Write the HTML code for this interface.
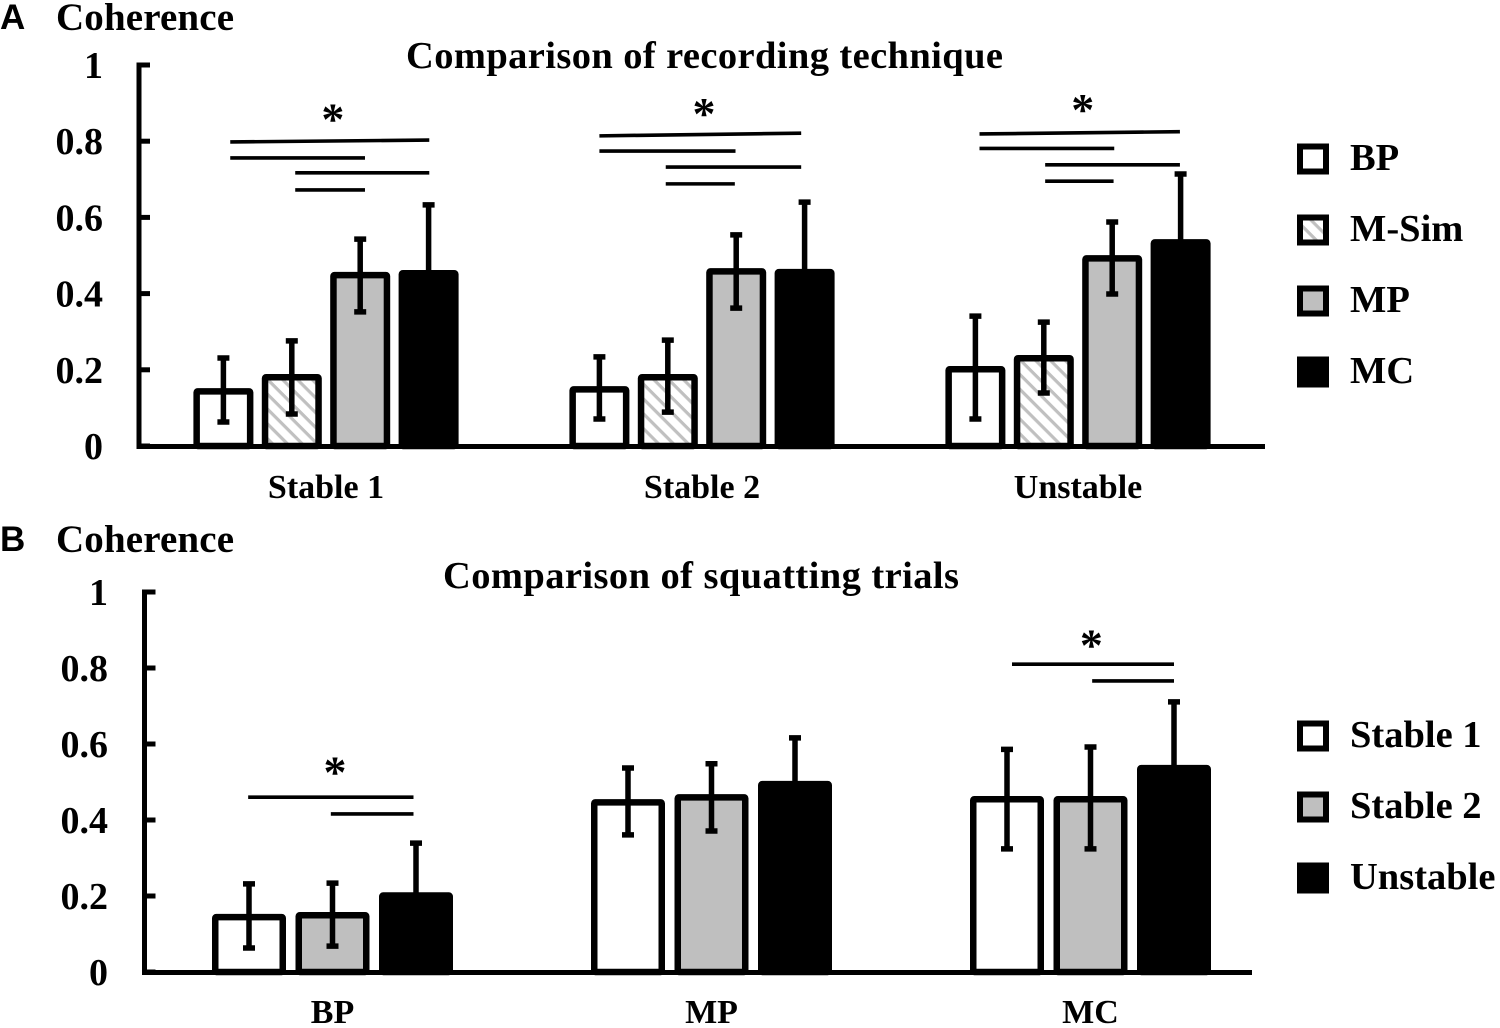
<!DOCTYPE html>
<html>
<head>
<meta charset="utf-8">
<title>Coherence comparison chart</title>
<style>
html,body{margin:0;padding:0;background:#fff;width:1500px;height:1028px;overflow:hidden}
svg{display:block;position:absolute;left:0;top:0;filter:blur(0.35px)}
text{font-family:"Liberation Serif",serif;font-weight:bold;fill:#000}
</style>
</head>
<body>
<svg id="chart" width="1500" height="1028" viewBox="0 0 1500 1028" xmlns="http://www.w3.org/2000/svg">
<defs>
<pattern id="hatch" width="10.5" height="10.5" patternUnits="userSpaceOnUse" patternTransform="rotate(45)">
<rect width="10.5" height="10.5" fill="#fff"/>
<rect width="10.5" height="3.2" y="4" fill="#c0c0c0"/>
</pattern>
</defs>
<text x="0" y="29" style="font-family:'Liberation Sans',sans-serif;font-size:35px">A</text>
<text x="56" y="30" style="font-size:39px" textLength="178" lengthAdjust="spacing">Coherence</text>
<text x="406" y="68" style="font-size:38.5px" textLength="597" lengthAdjust="spacing">Comparison of recording technique</text>
<text x="0" y="551" style="font-family:'Liberation Sans',sans-serif;font-size:35px">B</text>
<text x="56" y="552" style="font-size:39px" textLength="178" lengthAdjust="spacing">Coherence</text>
<text x="443" y="588" style="font-size:38.5px" textLength="516" lengthAdjust="spacing">Comparison of squatting trials</text>
</svg>
<script>
// Shared axis tick labels
const yTickLabels = ['0', '0.2', '0.4', '0.6', '0.8', '1'];

// Panel A: comparison of recording technique
const categoriesA = ['Stable 1', 'Stable 2', 'Unstable'];
const seriesNamesA = ['BP', 'M-Sim', 'MP', 'MC'];
const meanBP = [0.152, 0.157, 0.210];
const upperBP = [0.231, 0.234, 0.341];
const lowerBP = [0.063, 0.071, 0.071];
const meanMSim = [0.189, 0.189, 0.239];
const upperMSim = [0.276, 0.278, 0.325];
const lowerMSim = [0.084, 0.089, 0.139];
const meanMP = [0.457, 0.467, 0.501];
const upperMP = [0.543, 0.554, 0.588];
const lowerMP = [0.352, 0.362, 0.399];
const meanMC = [0.462, 0.465, 0.543];
const upperMC = [0.633, 0.640, 0.714];
const lowerMC = [0.290, 0.290, 0.370];

// Significance bars for panel A: category, start/end in bar-slot units, levels
const sigCategoryA = [0, 0, 0, 0, 1, 1, 1, 1, 2, 2, 2, 2];
const sigFromA = [0.10, 0.10, 1.05, 1.05, 0, 0, 0.97, 0.97, 0.06, 0.06, 1.02, 1.02];
const sigToA = [3.01, 2.07, 3.01, 2.07, 2.95, 1.99, 2.95, 1.98, 2.99, 2.03, 2.99, 2.02];
const sigStartLevelA = [0.798, 0.756, 0.717, 0.672, 0.814, 0.774, 0.732, 0.688, 0.819, 0.781, 0.738, 0.695];
const sigEndLevelA = [0.803, 0.756, 0.717, 0.672, 0.821, 0.774, 0.732, 0.688, 0.825, 0.781, 0.738, 0.695];
const starCategoryA = [0, 1, 2];
const starOffsetA = [0.10, 0.03, 0.07];
const starLevelA = [0.868, 0.882, 0.892];

// Panel B: comparison of squatting trials
const categoriesB = ['BP', 'MP', 'MC'];
const seriesNamesB = ['Stable 1', 'Stable 2', 'Unstable'];
const meanStable1 = [0.153, 0.455, 0.463];
const upperStable1 = [0.232, 0.537, 0.586];
const lowerStable1 = [0.063, 0.361, 0.324];
const meanStable2 = [0.158, 0.468, 0.463];
const upperStable2 = [0.234, 0.548, 0.592];
const lowerStable2 = [0.068, 0.371, 0.324];
const meanUnstable = [0.210, 0.503, 0.545];
const upperUnstable = [0.339, 0.616, 0.711];
const lowerUnstable = [0.070, 0.390, 0.370];

const sigCategoryB = [0, 0, 2, 2];
const sigFromB = [-0.01, 0.98, 0.06, 1.02];
const sigToB = [1.97, 1.97, 2.0, 2.0];
const sigLevelB = [0.460, 0.416, 0.810, 0.766];
const starCategoryB = [0, 2];
const starOffsetB = [0.03, 0.01];
const starLevelB = [0.535, 0.870];

const svg = document.getElementById('chart');
const NS = 'http://www.w3.org/2000/svg';

function make(tag, attrs, parent) {
  const el = document.createElementNS(NS, tag);
  for (const k in attrs) el.setAttribute(k, attrs[k]);
  (parent || svg).appendChild(el);
  return el;
}

function drawPanel(cfg) {
  const yScale = v => cfg.y0 - v * (cfg.y0 - cfg.y1);
  const xCategory = i => cfg.cat0 + i * cfg.catStep;
  const xBar = (i, j) => xCategory(i) + (j - (cfg.series.length - 1) / 2) * cfg.slot;

  const group = make('g', {});
  
  

  // Bars
  cfg.series.forEach((s, j) => {
    s.mean.forEach((v, i) => {
      const top = yScale(v);
      const cx = xBar(i, j);
      const bar = make('rect', {
        x: cx - cfg.barW / 2 + 3.25,
        y: top + 3.25,
        width: cfg.barW - 6.5,
        height: cfg.y0 - top - 3.25,
        rx: 1,
        fill: s.fill,
        stroke: '#000',
        'stroke-width': 6.5,
        'stroke-linejoin': 'round'
      }, group);
      
      
    });
  });

  // Error bars
  cfg.series.forEach((s, j) => {
    s.mean.forEach((v, i) => {
      const cx = xBar(i, j);
      const up = yScale(s.upper[i]);
      const low = yScale(s.lower[i]);
      const err = make('path', {
        d: 'M' + cx + ' ' + up + 'V' + low + 'M' + (cx - 6) + ' ' + up + 'H' + (cx + 6) + 'M' + (cx - 6) + ' ' + low + 'H' + (cx + 6),
        fill: 'none',
        stroke: '#000',
        'stroke-width': 5.5
      }, group);
      
      
    });
  });

  // Axes
  const yAxis = make('line', { x1: cfg.axisX, x2: cfg.axisX, y1: cfg.y1 - 2.5, y2: cfg.y0 + 3, stroke: '#000', 'stroke-width': 5 }, group);
  
  
  const xAxis = make('line', { x1: cfg.axisX, x2: cfg.axisEnd, y1: cfg.y0 + 0.5, y2: cfg.y0 + 0.5, stroke: '#000', 'stroke-width': 5 }, group);
  
  

  // Y ticks and labels
  yTickLabels.forEach(label => {
    const y = yScale(parseFloat(label));
    const tick = make('line', { x1: cfg.axisX, x2: cfg.axisX + 11, y1: y, y2: y, stroke: '#000', 'stroke-width': 5 }, group);
    
    
    const t = make('text', { x: cfg.tickLabelX, y: y + 13, 'text-anchor': 'end', 'font-size': 38 }, group);
    t.textContent = label;
    
    
  });

  // Category labels
  cfg.categories.forEach((label, i) => {
    const t = make('text', { x: xCategory(i), y: cfg.catLabelY, 'text-anchor': 'middle', 'font-size': 34 }, group);
    t.textContent = label;
    
    
  });

  // Significance lines
  cfg.sigCategory.forEach((c, k) => {
    const origin = xBar(c, 0);
    const line = make('line', {
      x1: origin + cfg.sigFrom[k] * cfg.slot,
      x2: origin + cfg.sigTo[k] * cfg.slot,
      y1: yScale(cfg.sigStart[k]),
      y2: yScale(cfg.sigEnd[k]),
      stroke: '#000',
      'stroke-width': 3.6
    }, group);
    
    
  });

  // Stars
  cfg.starCategory.forEach((c, k) => {
    const t = make('text', { x: xCategory(c) + cfg.starOffset[k] * cfg.slot, y: yScale(cfg.starLevel[k]) + 19, 'text-anchor': 'middle', 'font-size': 46 }, group);
    t.textContent = '*';
    
    
  });

  // Legend
  cfg.series.forEach((s, j) => {
    const cy = cfg.legendTop + j * cfg.legendStep;
    const swatch = make('rect', {
      x: 1300, y: cy - 12.5, width: 26, height: 25,
      fill: s.fill, stroke: '#000', 'stroke-width': 6
    }, group);
    
    
    const t = make('text', { x: 1350, y: cy + 11, 'font-size': 38.5 }, group);
    t.textContent = s.name;
    
    
  });
}

drawPanel({
  id: 'panel-a', y0: 446, y1: 65, axisX: 139, axisEnd: 1265, tickLabelX: 103,
  cat0: 326, catStep: 376, slot: 68.4, barW: 60, catLabelY: 498,
  legendTop: 159, legendStep: 71,
  categories: categoriesA,
  series: [
    { key: 'bp', name: seriesNamesA[0], fill: '#fff', mean: meanBP, upper: upperBP, lower: lowerBP },
    { key: 'm-sim', name: seriesNamesA[1], fill: 'url(#hatch)', mean: meanMSim, upper: upperMSim, lower: lowerMSim },
    { key: 'mp', name: seriesNamesA[2], fill: '#bfbfbf', mean: meanMP, upper: upperMP, lower: lowerMP },
    { key: 'mc', name: seriesNamesA[3], fill: '#000', mean: meanMC, upper: upperMC, lower: lowerMC }
  ],
  sigCategory: sigCategoryA, sigFrom: sigFromA, sigTo: sigToA,
  sigStart: sigStartLevelA, sigEnd: sigEndLevelA,
  starCategory: starCategoryA, starOffset: starOffsetA, starLevel: starLevelA
});

drawPanel({
  id: 'panel-b', y0: 972, y1: 592, axisX: 144.5, axisEnd: 1252, tickLabelX: 108,
  cat0: 332.5, catStep: 379, slot: 83.5, barW: 74, catLabelY: 1023,
  legendTop: 736, legendStep: 71,
  categories: categoriesB,
  series: [
    { key: 'stable-1', name: seriesNamesB[0], fill: '#fff', mean: meanStable1, upper: upperStable1, lower: lowerStable1 },
    { key: 'stable-2', name: seriesNamesB[1], fill: '#bfbfbf', mean: meanStable2, upper: upperStable2, lower: lowerStable2 },
    { key: 'unstable', name: seriesNamesB[2], fill: '#000', mean: meanUnstable, upper: upperUnstable, lower: lowerUnstable }
  ],
  sigCategory: sigCategoryB, sigFrom: sigFromB, sigTo: sigToB,
  sigStart: sigLevelB, sigEnd: sigLevelB,
  starCategory: starCategoryB, starOffset: starOffsetB, starLevel: starLevelB
});
</script>
</body>
</html>
